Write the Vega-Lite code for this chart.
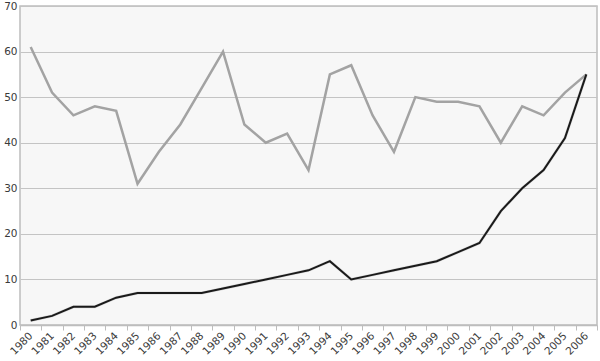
{
  "$schema": "https://vega.github.io/schema/vega-lite/v6.json",
  "autosize": "none",
  "width": 577,
  "height": 319,
  "padding": {"left": 20, "top": 6, "right": 3, "bottom": 36},
  "background": "white",
  "config": {
    "view": {"stroke": "#bdbdbd", "strokeWidth": 1.5, "fill": "#f7f7f7"},
    "axis": {"labelFont": "DejaVu Sans", "labelFontSize": 10.5, "labelColor": "#3a3a3a", "domainColor": "#bdbdbd", "tickColor": "#bdbdbd", "gridColor": "#c4c4c4"},
    "axisY": {"values": [0,10,20,30,40,50,60,70], "ticks": false, "domain": false, "labelPadding": 3, "title": null, "labelOverlap": false}
  },
  "data": {"values": [
    {"year": "1980", "a": 61, "b": 1},
    {"year": "1981", "a": 51, "b": 2},
    {"year": "1982", "a": 46, "b": 4},
    {"year": "1983", "a": 48, "b": 4},
    {"year": "1984", "a": 47, "b": 6},
    {"year": "1985", "a": 31, "b": 7},
    {"year": "1986", "a": 38, "b": 7},
    {"year": "1987", "a": 44, "b": 7},
    {"year": "1988", "a": 52, "b": 7},
    {"year": "1989", "a": 60, "b": 8},
    {"year": "1990", "a": 44, "b": 9},
    {"year": "1991", "a": 40, "b": 10},
    {"year": "1992", "a": 42, "b": 11},
    {"year": "1993", "a": 34, "b": 12},
    {"year": "1994", "a": 55, "b": 14},
    {"year": "1995", "a": 57, "b": 10},
    {"year": "1996", "a": 46, "b": 11},
    {"year": "1997", "a": 38, "b": 12},
    {"year": "1998", "a": 50, "b": 13},
    {"year": "1999", "a": 49, "b": 14},
    {"year": "2000", "a": 49, "b": 16},
    {"year": "2001", "a": 48, "b": 18},
    {"year": "2002", "a": 40, "b": 25},
    {"year": "2003", "a": 48, "b": 30},
    {"year": "2004", "a": 46, "b": 34},
    {"year": "2005", "a": 51, "b": 41},
    {"year": "2006", "a": 55, "b": 55}
  ]},
  "encoding": {
    "x": {"field": "year", "type": "ordinal", "scale": {"paddingInner": 0, "paddingOuter": 0},
      "axis": {"title": null, "labelAngle": -45, "labelAlign": "right", "labelBaseline": "middle", "tickBand": "extent", "tickSize": 5, "labelPadding": 4, "domainWidth": 1.5, "labelOverlap": false, "labelFontSize": 10.5}}
  },
  "layer": [
    {
      "mark": {"type": "line", "color": "#a3a3a3", "strokeWidth": 2.5},
      "encoding": {"y": {"field": "a", "type": "quantitative", "scale": {"domain": [0, 70]}}}
    },
    {
      "mark": {"type": "line", "color": "#bbbbbb", "strokeWidth": 3, "opacity": 0.5},
      "encoding": {"y": {"field": "b", "type": "quantitative", "scale": {"domain": [0, 70]}}}
    },
    {
      "mark": {"type": "line", "color": "#1a1a1a", "strokeWidth": 2},
      "encoding": {"y": {"field": "b", "type": "quantitative", "scale": {"domain": [0, 70]}}}
    }
  ]
}
